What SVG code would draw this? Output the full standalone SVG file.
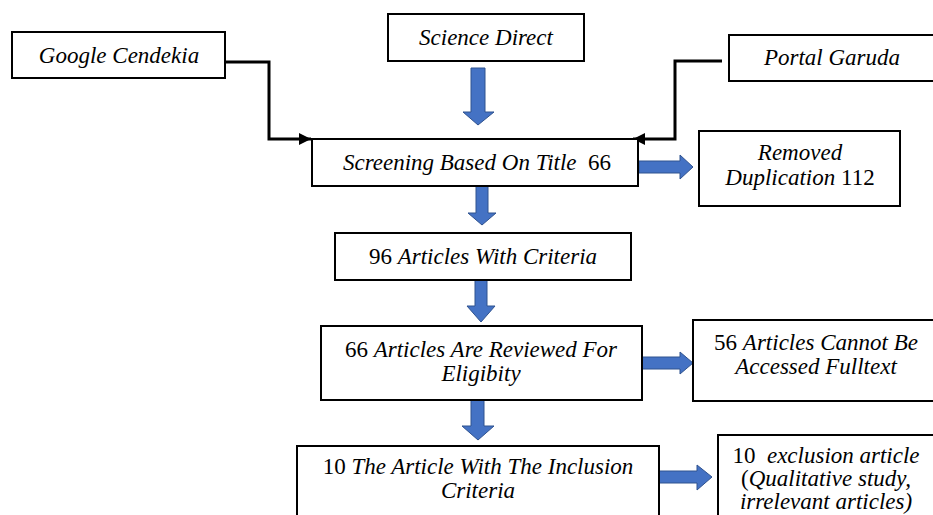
<svg xmlns="http://www.w3.org/2000/svg" width="933" height="515" viewBox="0 0 933 515">
<defs>
<style>
.box{fill:#fff;stroke:#000;stroke-width:2}
.t{font-family:'Liberation Serif','Times New Roman',serif;font-size:23px;fill:#000;text-anchor:middle}
.i{font-style:italic}
.blue{fill:#4472C4;stroke:#2F528F;stroke-width:1}
.con{fill:none;stroke:#000;stroke-width:3}
</style>
<marker id="ah" viewBox="0 0 10 10" refX="10" refY="5" markerWidth="4" markerHeight="4" orient="auto" markerUnits="strokeWidth">
<path d="M0,0 L10,5 L0,10 z" fill="#000"/>
</marker>
</defs>
<rect width="933" height="515" fill="#fff"/>
<g id="connectors">
<path class="con" d="M225,62 H269 V139 H311" marker-end="url(#ah)"/>
<path class="con" d="M722,61 H675 V139 H633" marker-end="url(#ah)"/>
<path class="blue" d="M471,68 H485 V112 H494 L478,125 L463,112 H471 Z"/>
<path class="blue" d="M476,186 H488 V213 H496 L482,225 L468,213 H476 Z"/>
<path class="blue" d="M475,280 H487 V306 H495 L481,322 L467,306 H475 Z"/>
<path class="blue" d="M471,400 H484 V426 H494 L478,440 L462,426 H471 Z"/>
<path class="blue" d="M639,161 H680 V155 L693,167 L680,179 V173 H639 Z"/>
<path class="blue" d="M642,357 H680 V352 L693,363 L680,374 V369 H642 Z"/>
<path class="blue" d="M659,471 H697 V465 L712,477 L697,490 V483 H659 Z"/>
</g>
<g id="google">
<rect class="box" x="12" y="32" width="213" height="46"/>
<text class="t i" x="119" y="63">Google Cendekia</text>
</g>
<g id="science">
<rect class="box" x="388" y="14" width="196" height="47"/>
<text class="t i" x="486" y="45">Science Direct</text>
</g>
<g id="portal">
<rect class="box" x="729" y="35" width="208" height="46"/>
<text class="t i" x="832" y="65">Portal Garuda</text>
</g>
<g id="screening">
<rect class="box" x="312" y="139" width="326" height="47"/>
<text class="t" x="477" y="170"><tspan class="i">Screening Based On Title</tspan>&#160; 66</text>
</g>
<g id="removed">
<rect class="box" x="699" y="131" width="201" height="75"/>
<text class="t i" x="800" y="160">Removed</text>
<text class="t" x="800" y="185"><tspan class="i">Duplication</tspan> 112</text>
</g>
<g id="criteria96">
<rect class="box" x="335" y="233" width="296" height="47"/>
<text class="t" x="483" y="264">96 <tspan class="i">Articles With Criteria</tspan></text>
</g>
<g id="reviewed66">
<rect class="box" x="321" y="326" width="321" height="74"/>
<text class="t" x="481" y="357">66 <tspan class="i">Articles Are Reviewed For</tspan></text>
<text class="t i" x="481" y="381">Eligibity</text>
</g>
<g id="cannot56">
<rect class="box" x="693" y="320" width="245" height="81"/>
<text class="t" x="816" y="350">56 <tspan class="i">Articles Cannot Be</tspan></text>
<text class="t i" x="816" y="374">Accessed Fulltext</text>
</g>
<g id="inclusion10">
<rect class="box" x="297" y="446" width="362" height="80"/>
<text class="t" x="478" y="474">10 <tspan class="i">The Article With The Inclusion</tspan></text>
<text class="t i" x="478" y="498">Criteria</text>
</g>
<g id="exclusion10">
<rect class="box" x="718" y="435" width="220" height="90"/>
<text class="t" x="826" y="463">10&#160; <tspan class="i">exclusion article</tspan></text>
<text class="t" x="826" y="486">(<tspan class="i">Qualitative study,</tspan></text>
<text class="t i" x="826" y="509">irrelevant articles)</text>
</g>
</svg>
